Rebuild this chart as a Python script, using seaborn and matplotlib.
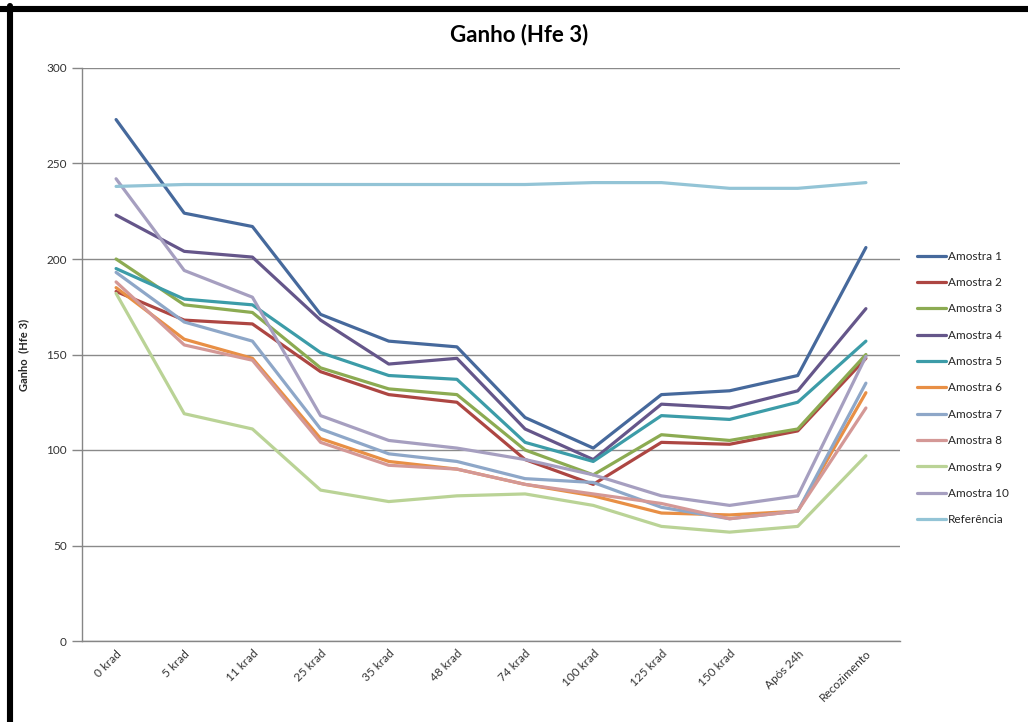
import matplotlib
matplotlib.use("Agg")
import matplotlib.pyplot as plt
import matplotlib.transforms as mtransforms
from matplotlib.lines import Line2D
import seaborn as sns
import pandas as pd

doses = ["0 krad", "5 krad", "11 krad", "25 krad", "35 krad", "48 krad",
         "74 krad", "100 krad", "125 krad", "150 krad", "Após 24h", "Recozimento"]

amostra_1 = [273, 224, 217, 171, 157, 154, 117, 101, 129, 131, 139, 206]
amostra_2 = [183, 168, 166, 141, 129, 125, 95, 82, 104, 103, 110, 148]
amostra_3 = [200, 176, 172, 143, 132, 129, 100, 87, 108, 105, 111, 150]
amostra_4 = [223, 204, 201, 168, 145, 148, 111, 95, 124, 122, 131, 174]
amostra_5 = [195, 179, 176, 151, 139, 137, 104, 94, 118, 116, 125, 157]
amostra_6 = [185, 158, 148, 106, 94, 90, 82, 76, 67, 66, 68, 130]
amostra_7 = [193, 167, 157, 111, 98, 94, 85, 83, 70, 64, 68, 135]
amostra_8 = [188, 155, 147, 104, 92, 90, 82, 77, 72, 64, 68, 122]
amostra_9 = [182, 119, 111, 79, 73, 76, 77, 71, 60, 57, 60, 97]
amostra_10 = [242, 194, 180, 118, 105, 101, 95, 87, 76, 71, 76, 149]
referencia = [238, 239, 239, 239, 239, 239, 239, 240, 240, 237, 237, 240]

series = {
    "Amostra 1": amostra_1,
    "Amostra 2": amostra_2,
    "Amostra 3": amostra_3,
    "Amostra 4": amostra_4,
    "Amostra 5": amostra_5,
    "Amostra 6": amostra_6,
    "Amostra 7": amostra_7,
    "Amostra 8": amostra_8,
    "Amostra 9": amostra_9,
    "Amostra 10": amostra_10,
    "Referência": referencia,
}

colors = ["#46699c", "#ad4642", "#8cab52", "#65568a", "#3c9ca8", "#e88f45",
          "#8ea7c8", "#d49896", "#bad396", "#a69fc0", "#93c4d6"]

rows = []
for name, vals in series.items():
    for d, v in zip(doses, vals):
        rows.append({"Dose": d, "Ganho": v, "Série": name})
df = pd.DataFrame(rows)

sns.set_style("white")
plt.rcParams["font.family"] = ["Lato", "DejaVu Sans"]

fig = plt.figure(figsize=(10.28, 7.22), dpi=100)
ax = fig.add_axes([82 / 1028, 1 - 641 / 722, (900 - 82) / 1028, (641 - 68) / 722])

sns.lineplot(data=df, x="Dose", y="Ganho", hue="Série", palette=colors,
             linewidth=2.3, sort=False, ax=ax, legend=False)

ax.set_xlim(-0.5, len(doses) - 0.5)
ax.set_ylim(0, 300)
ax.set_yticks(range(0, 301, 50))
ax.set_xticks(range(len(doses)))
ax.set_xticklabels(doses, rotation=45, ha="right", rotation_mode="anchor",
                   fontsize=8.5, color="#333333")
offset = mtransforms.ScaledTranslation(6 / 72, 0, fig.dpi_scale_trans)
for lbl in ax.get_xticklabels():
    lbl.set_transform(lbl.get_transform() + offset)
ax.tick_params(axis="y", labelsize=8.5, labelcolor="#333333", length=7,
               color="#868686", width=1, pad=4, left=True)
ax.tick_params(axis="x", length=0, pad=5)
ax.grid(axis="y", color="#8a8a8a", linewidth=1)
ax.grid(axis="x", visible=False)
ax.set_axisbelow(True)
for side in ("top", "right"):
    ax.spines[side].set_visible(False)
for side in ("left", "bottom"):
    ax.spines[side].set_color("#868686")
    ax.spines[side].set_linewidth(1)

ax.set_xlabel("")
ax.set_ylabel("Ganho  (Hfe 3)", fontsize=8, fontweight="bold", labelpad=12)

fig.text(0.505, 1 - 35 / 722, "Ganho (Hfe 3)", ha="center", va="center",
         fontsize=16, fontweight="bold", color="#000000")

handles = [Line2D([0], [0], color=c, linewidth=2.3) for c in colors]
fig.legend(handles, list(series.keys()), loc="upper left",
           bbox_to_anchor=(912 / 1028, 1 - 246 / 722), frameon=False,
           fontsize=8.5, handlelength=2.5, handletextpad=0.15,
           labelspacing=1.3, borderaxespad=0)

# black frame on the top and left edges
fig.add_artist(Line2D([0, 1], [1 - 9 / 722, 1 - 9 / 722], color="black",
                      linewidth=4.4, transform=fig.transFigure))
fig.add_artist(Line2D([10 / 1028, 10 / 1028], [0, 1 - 6 / 722], color="black",
                      linewidth=4.4, transform=fig.transFigure))

fig.savefig("out.png", dpi=100)
